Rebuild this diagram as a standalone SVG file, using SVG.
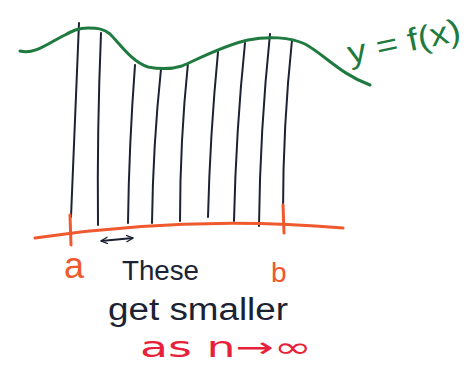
<svg xmlns="http://www.w3.org/2000/svg" width="476" height="365" viewBox="0 0 476 365">
<style>
.curve{fill:none;stroke:#1f7a40;stroke-width:3;stroke-linecap:round;stroke-linejoin:round}
.axis{fill:none;stroke:#f0582e;stroke-width:3;stroke-linecap:round}
.strip{fill:none;stroke:#1b2233;stroke-width:2;stroke-linecap:round}
.hand{font-family:"Liberation Sans","DejaVu Sans",sans-serif}
</style>
<defs>
<marker id="ah" viewBox="0 0 10 10" refX="9" refY="5" markerWidth="8" markerHeight="8" orient="auto-start-reverse" markerUnits="userSpaceOnUse">
<path d="M1,1 L9,5 L1,9" fill="none" stroke="#1b2233" stroke-width="1.6" stroke-linecap="round"/>
</marker>
</defs>
<rect width="476" height="365" fill="#ffffff"/>
<g id="strips">
<path class="strip" d="M79,23 Q75,120 71,217"/>
<path class="strip" d="M101,33 Q97,130 98,225"/>
<path class="strip" d="M135,65 Q129,145 128,223"/>
<path class="strip" d="M161,69 Q153,145 152,223"/>
<path class="strip" d="M188,63 Q180,140 180,221"/>
<path class="strip" d="M218,52 Q210,135 208,217"/>
<path class="strip" d="M245,43 Q236,130 234,221"/>
<path class="strip" d="M270,34 Q260,130 259,226"/>
<path class="strip" d="M292,40 Q283,125 283,212"/>
</g>
<g id="curve">
<path class="curve" d="M20,51 C35,55 50,42 65,35 C72,31 78,28 88,28 C98,28 104,29 110,34 C120,44 132,62 148,67 C158,69 172,69 182,66 C200,58 225,45 248,40 C268,36 290,37 305,44 C325,55 340,74 370,85"/>
</g>
<g id="axis">
<path class="axis" d="M35,238 Q190,215 343,228"/>
<path class="axis" d="M70,215 L71,245"/>
<path class="axis" d="M283,205 L284,233"/>
</g>
<g id="arrow">
<path d="M101,241 L133,238" fill="none" stroke="#1b2233" stroke-width="1.8" marker-start="url(#ah)" marker-end="url(#ah)"/>
</g>
<g id="labels">
<text class="hand" x="64" y="278" font-size="36" fill="#f0582e">a</text>
<text class="hand" x="271" y="282" font-size="28" fill="#f0582e">b</text>
<text class="hand" x="122" y="280" font-size="28" fill="#1b2233" textLength="77" lengthAdjust="spacingAndGlyphs">These</text>
<text class="hand" x="108" y="320" font-size="31" fill="#1b2233" textLength="180" lengthAdjust="spacingAndGlyphs">get smaller</text>
<text x="140" y="357" font-family="'DejaVu Sans',sans-serif" font-size="28" fill="#e8213a" textLength="172" lengthAdjust="spacingAndGlyphs">as n→∞</text>
<text class="hand" transform="translate(350,64) rotate(-12)" font-size="32" fill="#1f7a40" textLength="115" lengthAdjust="spacingAndGlyphs">y = f(x)</text>
</g>
</svg>
